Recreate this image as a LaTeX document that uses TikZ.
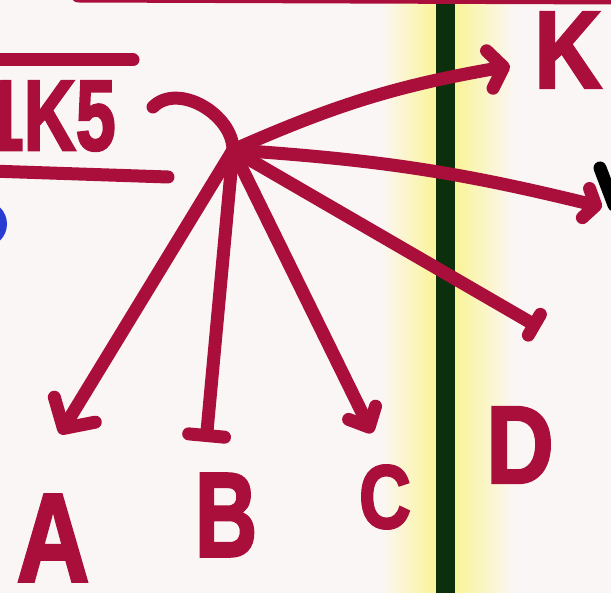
\documentclass[tikz,border=0pt]{standalone}
\usepackage{fontspec}
\setmainfont{Liberation Sans}[BoldFeatures={FakeBold=2.5}]
\usetikzlibrary{arrows.meta}
\definecolor{inkc}{RGB}{170,14,58}
\definecolor{bgc}{RGB}{251,246,246}
\definecolor{ylc}{RGB}{250,244,150}
\definecolor{grc}{RGB}{12,48,12}
\definecolor{blc}{RGB}{40,60,210}
\begin{document}
\begin{tikzpicture}[x=1pt,y=-1pt,
  ink/.style={draw=inkc, line width=13pt, line cap=round, line join=round},
  lbl/.style={text=inkc, inner sep=0pt, font=\bfseries},
  big/.style={font=\fontsize{#1}{#1}\selectfont\bfseries}]
\useasboundingbox (0,0) rectangle (611,593);
\clip (0,0) rectangle (611,593);
\fill[bgc] (0,0) rectangle (611,593);
\shade[left color=bgc, right color=ylc] (380,0) rectangle (437,593);
\shade[left color=ylc, right color=bgc] (454,0) rectangle (515,593);
\fill[grc] (436,0) rectangle (455,593);
% partial shapes at the edges
\fill[blc] (-16,224) circle (23);
\draw[line width=13pt, line cap=round, black] (600,168) -- (614,205);
% top line, over- and underline
\draw[ink] (78,-4) -- (620,-2);
\draw[ink] (-10,60) -- (133,60);
\draw[ink] (-10,171) -- (168,177);
% title text
\node[lbl, big=100, anchor=base east] (title) at (116,150) {\scalebox{0.72}[1]{1K5}};
% hub and ends
\coordinate (hub) at (233,150);
\coordinate (hook) at (153,107);
\coordinate (kend) at (510,66);
\coordinate (vend) at (602,207);
\coordinate (dend) at (540,328);
\coordinate (aend) at (60,434);
\coordinate (bend) at (206,442);
\coordinate (cend) at (372,433);
\draw[ink] (hook) to[out=45,in=90] (hub);
\draw[ink, -{Straight Barb[round,length=14pt,width=38pt]}] (hub) to[bend left=7] (kend);
\draw[ink, -{Straight Barb[round,length=10pt,width=30pt]}] (hub) to[bend left=5] (vend);
\draw[ink, -{Bar[round,width=24pt]}] (hub) -- (dend);
\draw[ink, -{Straight Barb[round,length=22pt,width=48pt]}] (hub) -- (aend);
\draw[ink, -{Bar[round,width=36pt]}] (hub) -- (bend);
\draw[ink, -{Straight Barb[round,length=16pt,width=30pt]}] (hub) -- (cend);
% labels
\node[lbl, big=126] (A) at (53,538) {\scalebox{0.8}[1]{A}};
\node[lbl, big=120] (B) at (226,515) {\scalebox{0.72}[1]{B}};
\node[lbl, big=90] (C) at (385,497) {\scalebox{0.8}[1]{C}};
\node[lbl, big=110] (D) at (520,445) {\scalebox{0.85}[1]{D}};
\node[lbl, big=110] (K) at (568,50) {\scalebox{0.85}[1]{K}};
\end{tikzpicture}
\end{document}
